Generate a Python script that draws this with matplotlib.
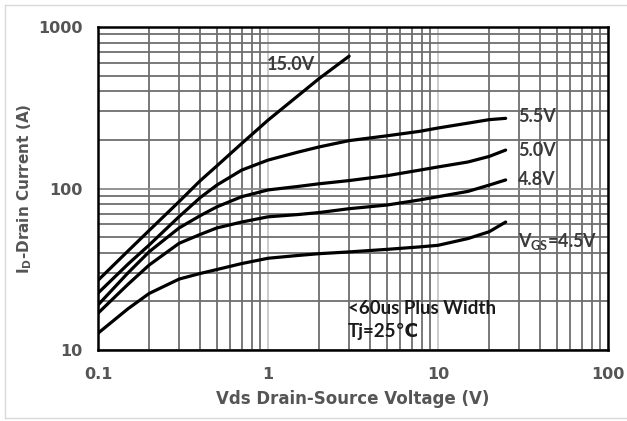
import matplotlib
matplotlib.use("Agg")
import matplotlib.pyplot as plt
from matplotlib.ticker import NullFormatter
from matplotlib.lines import Line2D

plt.rcParams['mathtext.fontset'] = 'custom'
plt.rcParams['mathtext.bf'] = 'DejaVu Sans:bold'
plt.rcParams['mathtext.sf'] = 'Lato:bold'

# output curves
vds_15 = [0.1, 0.15, 0.2, 0.3, 0.4, 0.5, 0.7, 1, 2, 3]
id_15 = [27, 41, 55, 83, 112, 138, 190, 265, 480, 660]

vds = [0.1, 0.15, 0.2, 0.3, 0.4, 0.5, 0.7, 1, 1.5, 2, 3, 5, 7.8, 10, 15, 20, 25]
id_55 = [22.5, 34, 44.7, 67, 88, 105, 130, 150, 168, 181, 198, 212, 226, 237, 254, 267, 272]
id_50 = [19, 30, 40.6, 57, 68, 77, 89, 98, 103, 107, 112, 120, 130, 136, 146, 158, 173]
id_48 = [16.9, 25.5, 33.6, 45.8, 52, 57, 62, 66.8, 69, 71, 75, 79, 85, 89, 96, 105, 113]
id_45 = [12.7, 18, 22.4, 27.5, 29.8, 31.5, 34.3, 37, 38.5, 39.5, 40.5, 42, 43.5, 44.5, 49, 54, 62]

x_ticks = [0.1, 1, 10, 100]
x_labels = ['0.1', '1', '10', '100']
y_ticks = [10, 100, 1000]
y_labels = ['10', '100', '1000']

fig = plt.figure(figsize=(6.27, 4.21), dpi=100)
ax = fig.add_axes([0.1563, 0.1686, 0.8134, 0.7672])

for x, y in [(vds_15, id_15), (vds, id_55), (vds, id_50), (vds, id_48), (vds, id_45)]:
    ax.plot(x, y, color='black', lw=2.3, solid_capstyle='round', solid_joinstyle='round', zorder=3)

ax.set_xscale('log')
ax.set_yscale('log')
ax.set_xlim(0.1, 100)
ax.set_ylim(10, 1000)

ax.set_xticks(x_ticks)
ax.set_xticklabels(x_labels)
ax.set_yticks(y_ticks)
ax.set_yticklabels(y_labels)
ax.xaxis.set_minor_formatter(NullFormatter())
ax.yaxis.set_minor_formatter(NullFormatter())
ax.tick_params(which='both', length=0)
ax.tick_params(axis='x', pad=12)
ax.tick_params(axis='y', pad=11)
for lab in ax.get_xticklabels() + ax.get_yticklabels():
    lab.set_fontweight('bold')
    lab.set_fontsize(11.5)
    lab.set_color('#555555')

ax.xaxis.grid(True, which='major', color='#c8c8c8', lw=1.3)
ax.yaxis.grid(True, which='major', color='#8a8a8a', lw=1.3)
ax.grid(True, which='minor', color='#6e6e6e', lw=1.3)
ax.set_axisbelow(True)
for s in ax.spines.values():
    s.set_linewidth(1.8)
    s.set_color('black')

ax.set_xlabel('Vds Drain-Source Voltage (V)', fontsize=12, fontweight='bold', color='#555555', labelpad=6)
ax.set_ylabel(r'I$_\mathbf{D}$-Drain Current (A)', fontsize=11, fontweight='bold', color='#555555', labelpad=3)

tf = dict(family=['Lato', 'DejaVu Sans'], fontweight='bold', fontsize=13, color='#3a3a3a', va='center', ha='left')
ax.text(0.99, 590, '15.0V', **tf)
ax.text(29.5, 279, '5.5V', **tf)
ax.text(29.5, 173, '5.0V', **tf)
ax.text(29.5, 113, '4.8V', **tf)
ax.text(29.5, 47, r'V$_\mathsf{GS}$=4.5V', **tf)
tf['color'] = '#1a1a1a'
tf['fontsize'] = 13.5
ax.text(2.95, 18.2, '<60us Plus Width', **tf)
ax.text(2.95, 13.0, 'Tj=25\u2103', **tf)

# light frame round the picture
fc = '#d9d9d9'
fig.add_artist(Line2D([5 / 627, 1], [1 - 5 / 421, 1 - 5 / 421], color=fc, lw=1))
fig.add_artist(Line2D([5 / 627, 5 / 627], [1 - 5 / 421, 3 / 421], color=fc, lw=1))
fig.add_artist(Line2D([5 / 627, 1], [3 / 421, 3 / 421], color=fc, lw=1))

fig.savefig('out.png', dpi=100)
